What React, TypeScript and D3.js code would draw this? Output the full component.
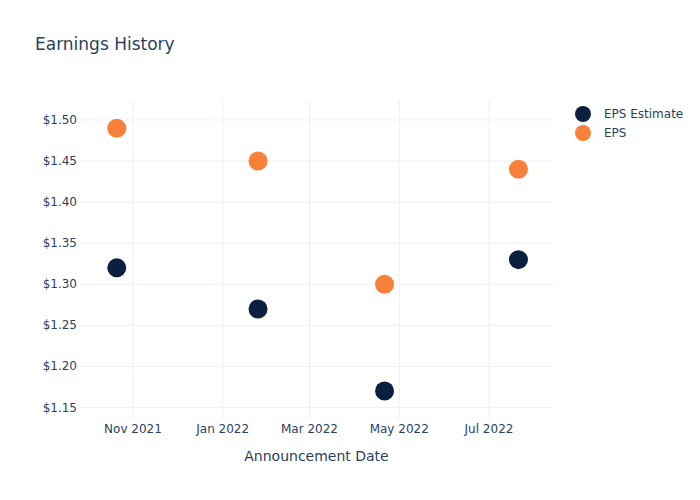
import React from "react";
import * as d3 from "d3";

const dates = ["2021-10-21", "2022-01-25", "2022-04-21", "2022-07-21"];
const epsEstimate = [1.32, 1.27, 1.17, 1.33];
const eps = [1.49, 1.45, 1.30, 1.44];
const yTicks = [1.15, 1.2, 1.25, 1.3, 1.35, 1.4, 1.45, 1.5];
const xTicks = ["2021-11-01", "2022-01-01", "2022-03-01", "2022-05-01", "2022-07-01"];
const seriesNames = ["EPS Estimate", "EPS"];
const colors = ["#0b1f41", "#f7813a"];

const W = 700, H = 500;
const L = 80, R = 553, T = 100, B = 420;
const font = "'DejaVu Sans', 'Open Sans', verdana, arial, sans-serif";
const textColor = "#2a3f5f";
const gridColor = "#ebf0f8";

const parse = d3.utcParse("%Y-%m-%d");

export default function App() {
  const x = d3
    .scaleUtc()
    .domain([parse("2021-09-26")!, new Date(Date.UTC(2022, 7, 13, 12))])
    .range([L, R]);
  const y = d3.scaleLinear().domain([1.1348, 1.5243]).range([B, T]);
  const fmtX = d3.utcFormat("%b %Y");
  const series = [epsEstimate, eps];

  return (
    <svg width={W} height={H} style={{ position: "absolute", left: 0, top: 0, background: "#fff" }}>
      <rect x={0} y={0} width={W} height={H} fill="#fff" />
      {xTicks.map((t) => {
        const px = x(parse(t)!);
        return (
          <g key={t}>
            <line x1={px} x2={px} y1={T} y2={B} stroke={gridColor} strokeWidth={1} />
            <text x={px} y={433} textAnchor="middle" fontFamily={font} fontSize={12} fill={textColor}>
              {fmtX(parse(t)!)}
            </text>
          </g>
        );
      })}
      {yTicks.map((t) => {
        const py = y(t);
        return (
          <g key={t}>
            <line x1={L} x2={R} y1={py} y2={py} stroke={gridColor} strokeWidth={1} />
            <text x={77} y={py + 4} textAnchor="end" fontFamily={font} fontSize={12} fill={textColor}>
              {"$" + t.toFixed(2)}
            </text>
          </g>
        );
      })}
      {series.map((vals, si) =>
        vals.map((v, i) => (
          <circle
            key={si + "-" + i}
            cx={x(parse(dates[i])!)}
            cy={y(v)}
            r={9.5}
            fill={colors[si]}
          />
        ))
      )}
      <text x={35} y={50} fontFamily={font} fontSize={17} fill={textColor}>
        Earnings History
      </text>
      <text x={(L + R) / 2} y={461} textAnchor="middle" fontFamily={font} fontSize={14} fill={textColor}>
        Announcement Date
      </text>
      {seriesNames.map((n, i) => (
        <g key={n}>
          <circle cx={583} cy={114 + i * 19} r={8} fill={colors[i]} />
          <text x={604} y={118 + i * 19} fontFamily={font} fontSize={12} fill={textColor}>
            {n}
          </text>
        </g>
      ))}
    </svg>
  );
}
